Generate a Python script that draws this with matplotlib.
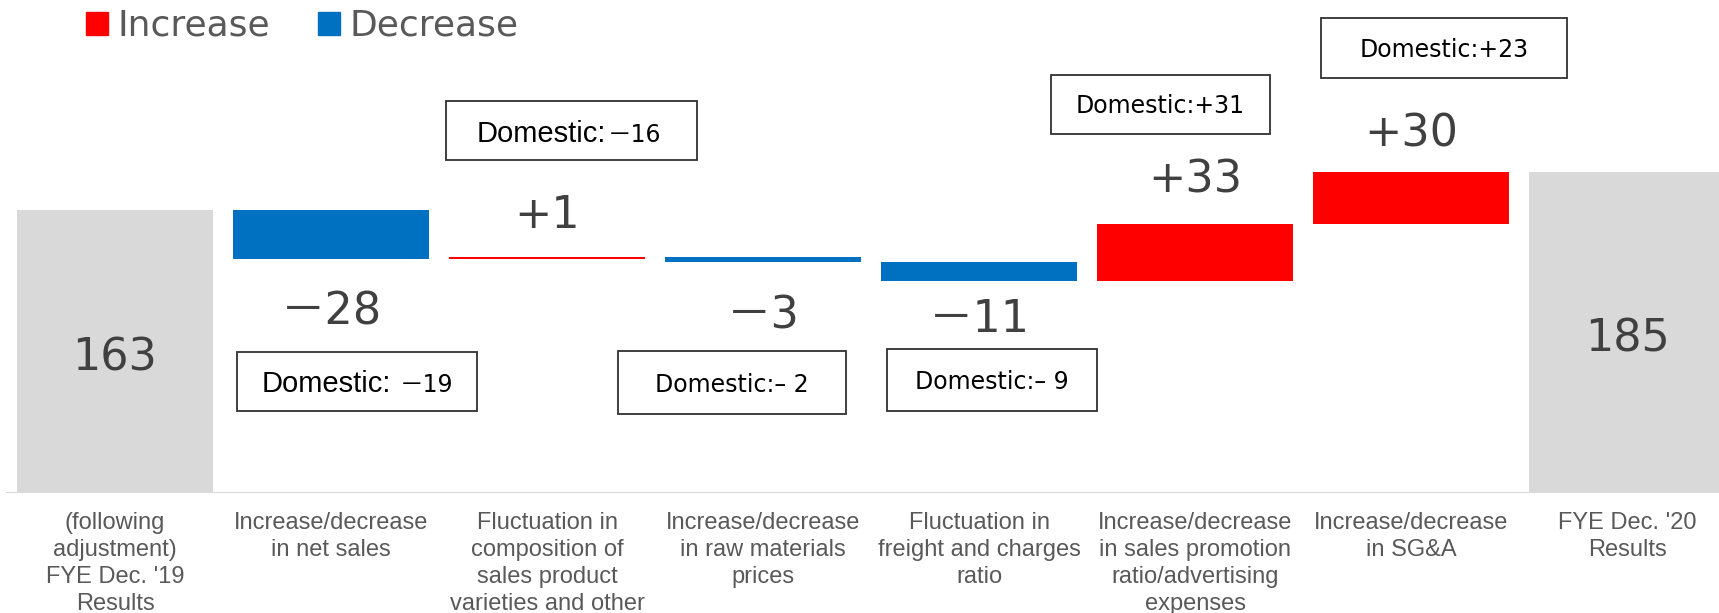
import matplotlib.pyplot as plt
from matplotlib.patches import Patch, Rectangle

# ── Data ──────────────────────────────────────────────────────────────────────
categories = [
    "(following\nadjustment)\nFYE Dec. '19\nResults",
    "Increase/decrease\nin net sales",
    "Fluctuation in\ncomposition of\nsales product\nvarieties and other",
    "Increase/decrease\nin raw materials\nprices",
    "Fluctuation in\nfreight and charges\nratio",
    "Increase/decrease\nin sales promotion\nratio/advertising\nexpenses",
    "Increase/decrease\nin SG&A",
    "FYE Dec. '20\nResults",
]
start_value = 163
end_value = 185
changes = [-28, 1, -3, -11, 33, 30]
domestic = [-19, -16, -2, -9, 31, 23]
legend_labels = ['Increase', 'Decrease']

GRAY = '#d9d9d9'
RED = '#ff0000'
BLUE = '#0070c0'
NUM_COLOR = '#404040'
LABEL_COLOR = '#595959'

W, H = 1719, 613

# ── Waterfall geometry ────────────────────────────────────────────────────────
bottoms, heights, colors = [0], [start_value], [GRAY]
level = start_value
for c in changes:
    bottoms.append(level if c > 0 else level + c)
    heights.append(abs(c))
    colors.append(RED if c > 0 else BLUE)
    level += c
bottoms.append(0)
heights.append(end_value)
colors.append(GRAY)

# ── Plot ──────────────────────────────────────────────────────────────────────
fig = plt.figure(figsize=(W / 100, H / 100), dpi=100)
ax = fig.add_axes([0, 120 / H, 1, 493 / H])
x = list(range(len(categories)))

ax.bar(x, heights, bottom=bottoms, width=0.907, color=colors, zorder=3)
ax.axhline(0, xmin=7 / W, color=GRAY, lw=1.5, zorder=2)

ax.set_xlim(-115 / 216, (W - 115) / 216)
ax.set_ylim(0, 493 / 1.735)
for s in ax.spines.values():
    s.set_visible(False)
ax.set_yticks([])
ax.set_xticks(x)
ax.set_xticklabels(categories, fontsize=17, family='Liberation Sans',
                   color=LABEL_COLOR, linespacing=1.29)
ax.tick_params(axis='x', length=0, pad=14)

num_family = ['DejaVu Sans', 'Noto Sans CJK JP']

# totals
for i, v in [(0, start_value), (len(categories) - 1, end_value)]:
    ax.annotate(f'{v}', (i, v / 2), xytext=(0, -13.5), textcoords='offset points',
                ha='center', va='baseline', fontsize=32, color=NUM_COLOR,
                family=num_family)

# change labels (offset in points from bar edge to text baseline)
label_offsets = [-47.5, 21, -47.5, -36.7, 23, 18.7]
for k, (c, off) in enumerate(zip(changes, label_offsets)):
    i = k + 1
    edge = bottoms[i] + heights[i] if c > 0 else bottoms[i]
    txt = f'+{c}' if c > 0 else f'－{abs(c)}'
    ax.annotate(txt, (i, edge), xytext=(0, off), textcoords='offset points',
                ha='center', va='baseline', fontsize=32, color=NUM_COLOR,
                family=num_family)

# ── Domestic call-out boxes (pixel layout) ───────────────────────────────────
box_rects = [(237, 352, 477, 411), (446, 101, 697, 160), (618, 351, 846, 414),
             (887, 349, 1097, 411), (1051, 75, 1270, 134), (1321, 18, 1567, 78)]
box_baselines = [392, 142, 392, 389, 113, 57]
split_x = {0: (262, 400), 1: (477, 608)}

for k, (v, (x0, y0, x1, y1), yb) in enumerate(zip(domestic, box_rects, box_baselines)):
    fig.patches.append(Rectangle((x0 / W, 1 - y1 / H), (x1 - x0) / W, (y1 - y0) / H,
                                 transform=fig.transFigure, facecolor='white',
                                 edgecolor='#303030', lw=1.3, zorder=5))
    if k in split_x:
        xa, xb = split_x[k]
        fig.text(xa / W, 1 - yb / H, 'Domestic:', ha='left', va='baseline',
                 fontsize=21, family='Liberation Sans', color='black', zorder=6)
        fig.text(xb / W, 1 - yb / H, f'－{abs(v)}', ha='left', va='baseline',
                 fontsize=17, family=num_family, color='black', zorder=6)
    else:
        sign = f'+{v}' if v > 0 else f'– {abs(v)}'
        fig.text((x0 + x1) / 2 / W, 1 - yb / H, f'Domestic:{sign}', ha='center',
                 va='baseline', fontsize=17, family='DejaVu Sans', color='black',
                 zorder=6)

# ── Legend ────────────────────────────────────────────────────────────────────
handles = [Patch(color=RED), Patch(color=BLUE)]
leg = ax.legend(handles, legend_labels, loc='upper left',
                bbox_to_anchor=(86 / W, 1 - 9 / H), bbox_transform=fig.transFigure,
                ncol=2, frameon=False, fontsize=26, handlelength=0.61,
                handleheight=0.61, handletextpad=0.25, columnspacing=1.35,
                borderpad=0, borderaxespad=0)
for t in leg.get_texts():
    t.set_color(LABEL_COLOR)

fig.savefig('out.png', dpi=100)
